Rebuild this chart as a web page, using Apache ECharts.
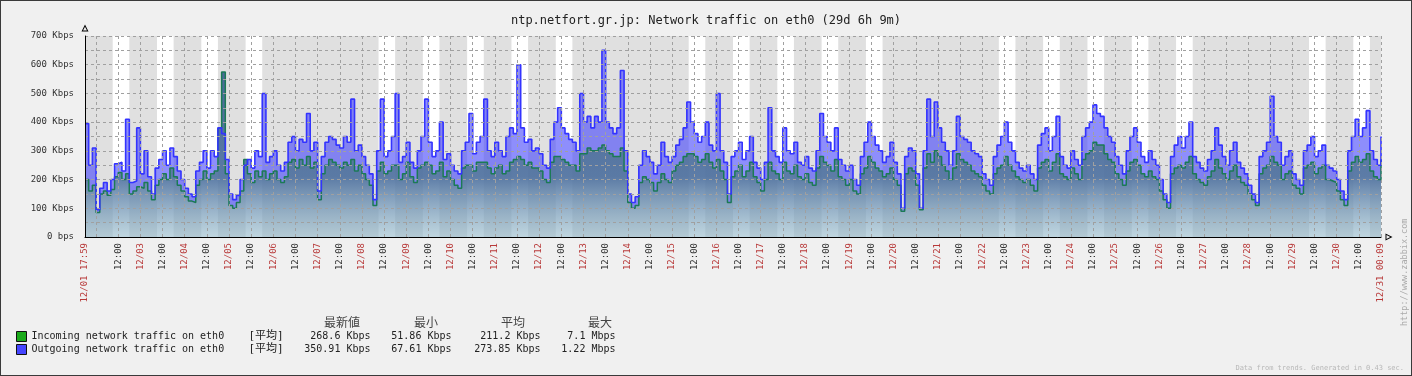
<!DOCTYPE html>
<html><head><meta charset="utf-8">
<script src="https://cdn.jsdelivr.net/npm/echarts@6/dist/echarts.min.js"></script>
<style>
html,body{margin:0;padding:0;background:#f0f0f0}
#c{width:1412px;height:376px;position:absolute;left:0;top:0}
#b{position:absolute;left:0;top:0;width:1412px;height:376px;box-sizing:border-box;border:1px solid #3a3a3a;pointer-events:none}
</style>
</head><body><div id="c"></div><div id="b"></div>
<script>
// ---- data: 2-hourly averages (Kbps), 12/01 18:00 ... 12/31 00:00 ----
const outgoing = [
  395, 250, 310,
  95, 170, 190, 160, 200, 255, 260, 230, 410, 190, 195, 380,
  220, 300, 210, 150, 240, 270, 300, 250, 310, 280, 230, 200,
  170, 150, 140, 230, 260, 300, 240, 300, 280, 380, 360, 270,
  150, 130, 145, 200, 250, 270, 240, 300, 280, 500, 260, 280,
  300, 250, 230, 260, 330, 350, 300, 340, 330, 430, 300, 330,
  160, 280, 330, 350, 340, 320, 310, 350, 330, 480, 300, 320,
  280, 250, 220, 130, 300, 480, 280, 300, 350, 500, 260, 280,
  330, 260, 240, 300, 350, 480, 330, 280, 300, 400, 270, 290,
  250, 230, 220, 300, 330, 430, 290, 330, 350, 480, 300, 280,
  330, 300, 280, 350, 380, 360, 600, 380, 330, 340, 300, 310,
  290, 250, 240, 340, 400, 450, 380, 360, 340, 330, 300, 500,
  400, 420, 380, 420, 400, 650, 400, 380, 360, 380, 580, 300,
  150, 120, 140, 250, 300, 280, 260, 220, 250, 330, 280, 260,
  280, 320, 340, 380, 470, 400, 360, 330, 350, 400, 320, 300,
  500, 300, 260, 150, 280, 300, 330, 270, 300, 350, 260, 240,
  200, 260, 450, 300, 280, 260, 380, 300, 290, 330, 260, 250,
  280, 240, 230, 300, 430, 350, 330, 300, 380, 270, 250, 230,
  250, 200, 180, 280, 330, 400, 350, 320, 300, 260, 280, 330,
  260, 220, 100, 280, 310, 300, 220, 100, 300, 480, 350, 470,
  380, 330, 300, 250, 300, 420, 350, 340, 330, 300, 290, 280,
  220, 200, 180, 280, 320, 350, 400, 330, 300, 260, 240, 230,
  250, 220, 200, 320, 360, 380, 300, 350, 420, 280, 250, 240,
  300, 270, 250, 350, 380, 400, 460, 430, 420, 380, 350, 330,
  280, 250, 220, 300, 350, 380, 330, 280, 260, 300, 270, 250,
  200, 150, 120, 280, 320, 350, 310, 350, 400, 280, 260, 240,
  230, 270, 300, 380, 320, 280, 250, 300, 330, 260, 240, 220,
  180, 150, 120, 280, 300, 330, 490, 350, 330, 250, 280, 300,
  220, 200, 180, 300, 320, 350, 280, 300, 320, 250, 240, 230,
  200, 160, 130, 300, 350, 410, 350, 380, 440, 300, 270, 250,
  350
];
const incoming = [
  200, 160, 180,
  85, 150, 160, 145, 165, 210, 225, 200, 220, 150, 160, 175,
  170, 190, 160, 130, 180, 200, 220, 200, 240, 210, 180, 160,
  140, 125, 120, 180, 200, 230, 200, 220, 230, 380, 575, 220,
  110, 100, 120, 160, 270, 220, 190, 230, 210, 230, 200, 220,
  230, 200, 190, 210, 260, 270, 240, 270, 250, 280, 240, 260,
  130, 220, 250, 270, 260, 250, 240, 260, 250, 270, 230, 250,
  220, 200, 180, 110, 230, 260, 220, 230, 250, 250, 200, 220,
  260, 210, 190, 240, 250, 260, 250, 220, 230, 260, 210, 230,
  200, 180, 170, 240, 250, 250, 230, 260, 260, 260, 240, 220,
  240, 250, 220, 230, 260, 270, 280, 270, 250, 260, 240, 240,
  230, 200, 190, 260, 280, 280, 270, 260, 250, 250, 230, 290,
  290, 310, 300, 300, 310, 320, 300, 290, 280, 280, 310, 230,
  120, 100, 110, 190, 210, 200, 190, 160, 190, 220, 200, 190,
  230, 250, 260, 280, 290, 290, 280, 260, 270, 290, 260, 240,
  270, 230, 200, 120, 210, 230, 250, 210, 230, 260, 210, 190,
  160, 200, 260, 230, 220, 200, 260, 230, 220, 250, 210, 200,
  220, 190, 180, 240, 280, 260, 250, 230, 270, 210, 200, 180,
  200, 160, 150, 220, 240, 280, 260, 240, 230, 210, 220, 240,
  200, 180, 90, 220, 240, 230, 180, 95, 240, 290, 260, 300,
  280, 250, 230, 200, 240, 290, 270, 260, 250, 230, 220, 210,
  180, 160, 150, 220, 240, 250, 280, 250, 230, 210, 200, 190,
  200, 180, 160, 240, 260, 270, 230, 260, 290, 220, 210, 200,
  240, 220, 200, 270, 290, 300, 330, 320, 320, 290, 270, 260,
  220, 200, 180, 230, 260, 270, 250, 220, 210, 230, 210, 200,
  160, 130, 100, 220, 240, 250, 240, 260, 280, 220, 200, 190,
  180, 210, 230, 270, 240, 220, 200, 230, 250, 210, 190, 180,
  150, 130, 110, 220, 240, 250, 280, 260, 250, 200, 220, 230,
  180, 170, 150, 240, 250, 260, 220, 240, 250, 200, 195, 190,
  160, 130, 110, 230, 260, 280, 260, 270, 290, 230, 210, 200,
  270
];
const seriesNames = ['Incoming network traffic on eth0', 'Outgoing network traffic on eth0'];
const lastVals = ['268.6 Kbps', '350.91 Kbps'];
const minVals = ['51.86 Kbps', '67.61 Kbps'];
const avgVals = ['211.2 Kbps', '273.85 Kbps'];
const maxVals = ['7.1 Mbps', '1.22 Mbps'];
const statHeaders = ['最新値', '最小', '平均', '最大'];
const funcLabel = '[平均]';
const startLabel = '12/01 17:59';
const endLabel = '12/31 00:09';
const titleText = 'ntp.netfort.gr.jp: Network traffic on eth0 (29d 6h 9m)';
const yTicks = [0, 100, 200, 300, 400, 500, 600, 700];
const STEP_H = 2; // hours between samples

// ---- hourly categories ----
const pad = n => (n < 10 ? '0' : '') + n;
const categories = [];
const hours = [];
const nCat = (outgoing.length - 1) * STEP_H + 1;
for (let i = 0; i < nCat; i++) {
  const tot = 18 + i;
  const day = 1 + Math.floor(tot / 24);
  const hr = tot % 24;
  categories.push('12/' + pad(day) + ' ' + pad(hr) + ':00');
  hours.push(hr);
}
const last = categories.length - 1;
// work periods (Mon-Fri 09:00-18:00), December 2008
const workAreas = [];
for (let d = 1; d <= 31; d++) {
  const wd = new Date(2008, 11, d).getDay();
  if (wd >= 1 && wd <= 5) {
    const a = '12/' + pad(d) + ' 09:00', b = '12/' + pad(d) + ' 18:00';
    if (categories.includes(a) && categories.includes(b)) workAreas.push([{ xAxis: a }, { xAxis: b }]);
  }
}
const toPairs = arr => arr.map((v, i) => [i * STEP_H, v]);
const gap = outgoing.map((o, i) => Math.max(0, o - incoming[i]));

const MONO = '"DejaVu Sans Mono", "Noto Sans CJK JP", monospace';
const showLabel = (idx) => idx === 0 || idx === last || hours[idx] === 12 || (hours[idx] === 0 && idx >= 12);
const arrowPath = 'path://M5,0 L10,10 L0,10 Z M5,3.2 L2.2,8.6 L7.8,8.6 Z';
const hdr = { align: 'center', fontFamily: '"Noto Sans CJK JP", "DejaVu Sans Mono"', fontSize: 12, fontWeight: 'normal', color: '#444', lineHeight: 13 };

const chart = echarts.init(document.getElementById('c'), null, { renderer: 'canvas' });
chart.setOption({
  animation: false,
  backgroundColor: '#f0f0f0',
  title: [
    { text: titleText, left: 'center', top: 10,
      textStyle: { fontFamily: MONO, fontSize: 12, fontWeight: 'normal', color: '#222' } },
    { text: statHeaders.map((h, i) => '{h' + i + '|' + h + '}').join(''), left: 297, top: 311,
      textStyle: { fontWeight: 'normal', rich: {
        h0: Object.assign({ width: 80 }, hdr),
        h1: Object.assign({ width: 88 }, hdr),
        h2: Object.assign({ width: 86 }, hdr),
        h3: Object.assign({ width: 88 }, hdr)
      } } }
  ],
  legend: {
    orient: 'vertical', left: 11, top: 326, itemWidth: 10, itemHeight: 10, itemGap: 2, icon: 'rect',
    data: [
      { name: seriesNames[0], itemStyle: { color: '#1aaa1a', borderColor: '#111', borderWidth: 1 } },
      { name: seriesNames[1], itemStyle: { color: '#4545ff', borderColor: '#111', borderWidth: 1 } }
    ],
    selectedMode: false,
    formatter: (name) => {
      const i = seriesNames.indexOf(name);
      return '{n|' + name + '}{f|' + funcLabel + '}{a|' + lastVals[i] + '}{b|' + minVals[i] + '}{c|' + avgVals[i] + '}{d|' + maxVals[i] + '}';
    },
    textStyle: {
      fontFamily: MONO, fontSize: 10, color: '#222',
      rich: {
        n: { width: 217, fontFamily: MONO, fontSize: 10, color: '#222', lineHeight: 12 },
        f: { width: 42, fontFamily: MONO, fontSize: 11, color: '#222', lineHeight: 12 },
        a: { width: 80, align: 'right', fontFamily: MONO, fontSize: 10, color: '#222', lineHeight: 12 },
        b: { width: 81, align: 'right', fontFamily: MONO, fontSize: 10, color: '#222', lineHeight: 12 },
        c: { width: 89, align: 'right', fontFamily: MONO, fontSize: 10, color: '#222', lineHeight: 12 },
        d: { width: 75, align: 'right', fontFamily: MONO, fontSize: 10, color: '#222', lineHeight: 12 }
      }
    }
  },
  grid: { left: 85, right: 31, top: 36, bottom: 139, show: true, backgroundColor: '#e0e0e0', borderWidth: 0 },
  xAxis: {
    type: 'category', boundaryGap: false, data: categories, z: 5,
    axisLine: { lineStyle: { color: '#000', width: 1 }, symbol: ['none', arrowPath], symbolSize: [7, 7], symbolOffset: [0, 8] },
    axisTick: { show: false },
    splitLine: { show: true, interval: (idx) => hours[idx] === 0 || hours[idx] === 12 || idx === last,
      lineStyle: { color: '#a0a0a0', type: [3, 3], width: 1 } },
    axisLabel: {
      interval: (idx) => showLabel(idx), rotate: 90, margin: 6, showMinLabel: true, showMaxLabel: true,
      formatter: (val, idx) => {
        if (idx === 0) return '{d|' + startLabel + '}';
        if (idx === last) return '{d|' + endLabel + '}';
        if (hours[idx] === 0) return '{d|' + val.slice(0, 5) + '}';
        return '{t|' + val.slice(6) + '}';
      },
      rich: {
        d: { fontFamily: MONO, fontSize: 9, color: '#b83a3a' },
        t: { fontFamily: MONO, fontSize: 9, color: '#333' }
      }
    }
  },
  yAxis: {
    type: 'value', min: 0, max: 700, interval: 50, z: 5,
    axisLine: { show: true, lineStyle: { color: '#000', width: 1 }, symbol: ['none', arrowPath], symbolSize: [7, 7], symbolOffset: [0, 8] },
    axisTick: { show: false },
    splitLine: { show: true, lineStyle: { color: '#a0a0a0', type: [3, 3], width: 1 } },
    axisLabel: {
      margin: 11, fontFamily: MONO, fontSize: 9, color: '#333',
      formatter: (v) => yTicks.includes(v) ? (v === 0 ? '0 bps' : v + ' Kbps') : ''
    }
  },
  series: [
    {
      name: seriesNames[0], type: 'line', step: 'end', data: toPairs(incoming), stack: 'traffic', z: 3,
      showSymbol: false, symbol: 'none', silent: true,
      color: '#1b7a55',
      lineStyle: { color: '#1b7a55', width: 1.5 },
      areaStyle: {
        opacity: 1,
        color: new echarts.graphic.LinearGradient(0, 36, 0, 237, [
          { offset: 0, color: 'rgba(62,95,145,0.96)' },
          { offset: 0.7, color: 'rgba(80,114,160,0.93)' },
          { offset: 1, color: 'rgba(152,188,204,0.62)' }
        ], true)
      },
      markArea: { silent: true, itemStyle: { color: '#ffffff' }, data: workAreas }
    },
    {
      name: 'gap', type: 'line', step: 'end', data: toPairs(gap), stack: 'traffic', z: 2,
      showSymbol: false, symbol: 'none', silent: true,
      lineStyle: { width: 0, opacity: 0 },
      areaStyle: { opacity: 1, color: 'rgba(72,72,250,0.62)' }
    },
    {
      name: seriesNames[1], type: 'line', step: 'end', data: toPairs(outgoing), z: 4,
      showSymbol: false, symbol: 'none', silent: true,
      color: '#3333ff',
      lineStyle: { color: '#3333ff', width: 1.6 }
    }
  ],
  graphic: [
    { type: 'text', right: 8, bottom: 4,
      style: { text: 'Data from trends. Generated in 0.43 sec.', fill: '#b8b8b8', font: '7px "DejaVu Sans Mono"' } },
    { type: 'text', x: 1405, y: 326, rotation: Math.PI / 2,
      style: { text: 'http://www.zabbix.com', fill: '#aaaaaa', font: '8.5px "DejaVu Sans Mono"', verticalAlign: 'middle' } }
  ]
});
</script>
</body></html>
